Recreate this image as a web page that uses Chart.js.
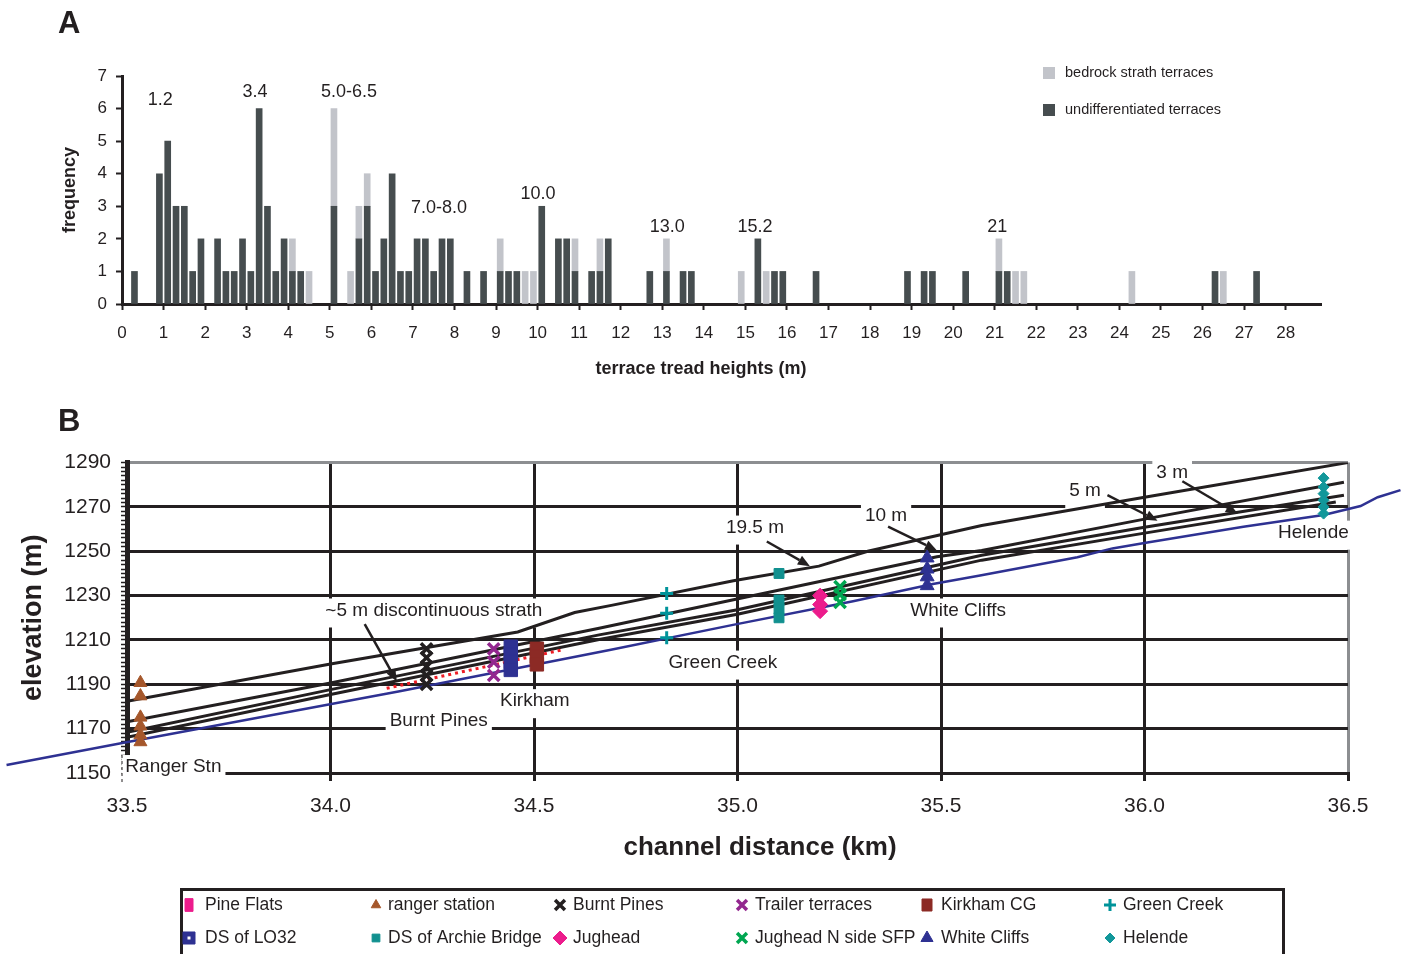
<!DOCTYPE html>
<html>
<head>
<meta charset="utf-8">
<title>terrace heights</title>
<script src="https://cdn.jsdelivr.net/npm/chart.js@4.4.1/dist/chart.umd.min.js"></script>
<style>
  html, body { margin: 0; padding: 0; background: #fff; }
  body { position: relative; width: 1403px; height: 954px; overflow: hidden; }
  canvas { position: absolute; left: 0; }
  #chartA { top: 0; }
  #chartB { top: 440px; }
  .panel { position: absolute; left: 58px; font: bold 31px 'Liberation Sans', Arial, sans-serif; line-height: 1; color: #231f20; }
</style>
</head>
<body>
<canvas id="chartA" width="1403" height="400"></canvas>
<canvas id="chartB" width="1403" height="514"></canvas>
<div class="panel" style="top:7px">A</div>
<div class="panel" style="top:405px">B</div>
<script>
const INK = '#231f20';
const GRAY = '#8c8e91';
const FAMILY = "'Liberation Sans', Arial, Helvetica, sans-serif";
Chart.defaults.font.family = FAMILY;
Chart.defaults.color = INK;

// ---------- panel A: terrace tread heights, 0.2 m bins (bin centre, m) ----------
const undiffHeights = [0.3, 0.9, 1.1, 1.3, 1.5, 1.7, 1.9, 2.3, 2.5, 2.7, 2.9, 3.1, 3.3, 3.5, 3.7, 3.9, 4.1, 4.3,
  5.1, 5.7, 5.9, 6.1, 6.3, 6.5, 6.7, 6.9, 7.1, 7.3, 7.5, 7.7, 7.9, 8.3, 8.7, 9.1, 9.3, 9.5,
  10.1, 10.5, 10.7, 10.9, 11.3, 11.5, 11.7, 12.7, 13.1, 13.5, 13.7, 15.3, 15.7, 15.9, 16.7,
  18.9, 19.3, 19.5, 20.3, 21.1, 21.3, 26.3, 27.3];
const undiffCounts = [1, 4, 5, 3, 3, 1, 2, 2, 1, 1, 2, 1, 6, 3, 1, 2, 1, 1,
  3, 2, 3, 1, 2, 4, 1, 1, 2, 2, 1, 2, 2, 1, 1, 1, 1, 1,
  3, 2, 2, 1, 1, 1, 2, 1, 1, 1, 1, 2, 1, 1, 1,
  1, 1, 1, 1, 1, 1, 1, 1];
const strathHeights = [4.1, 4.5, 5.1, 5.5, 5.7, 5.9, 9.1, 9.7, 9.9, 10.9, 11.5, 13.1, 14.9, 15.5, 21.1, 21.5, 21.7, 24.3, 26.5];
const strathCounts = [1, 1, 3, 1, 1, 1, 1, 1, 1, 1, 1, 1, 1, 1, 1, 1, 1, 1, 1];

// peak annotations (height m, frequency)
const peakText = ['1.2', '3.4', '5.0-6.5', '7.0-8.0', '10.0', '13.0', '15.2', '21'];
const peakPos = [[0.92, 6.26], [3.2, 6.51], [5.46, 6.51], [7.63, 2.95], [10.01, 3.38], [13.12, 2.36], [15.23, 2.36], [21.06, 2.36]];

// ---------- panel B: long profile ----------
const riverKm = [33.204, 33.482, 34.17, 34.686, 34.989, 35.284, 35.48, 35.596, 35.835, 35.921, 36.007, 36.243, 36.44, 36.531, 36.573, 36.629];
const riverElev = [1153.6, 1163.3, 1186.9, 1205.5, 1216.8, 1227.5, 1235.2, 1239.1, 1247.3, 1251.3, 1254.0, 1261.1, 1266.4, 1270.4, 1274.4, 1277.6];

const t1Km = [33.5, 34.0, 34.46, 34.6, 34.69, 34.99, 35.2, 35.32, 35.48, 35.6, 36.0, 36.5];
const t1Elev = [1182.4, 1199.2, 1213.6, 1222.4, 1225.6, 1236.7, 1243.3, 1250.0, 1256.7, 1261.6, 1274.4, 1290.0];
const t2Km = [33.5, 34.0, 34.66, 34.99, 35.49, 35.6, 36.0, 36.49];
const t2Elev = [1173.1, 1190.6, 1215.3, 1228.1, 1247.5, 1250.4, 1264.5, 1281.1];
const t3Km = [33.5, 34.0, 34.66, 35.0, 35.6, 36.0, 36.49];
const t3Elev = [1168.4, 1187.6, 1212.3, 1223.6, 1248.2, 1260.8, 1275.3];
const t4Km = [33.5, 34.0, 34.66, 35.0, 35.6, 36.0, 36.47];
const t4Elev = [1166.1, 1185.4, 1210.2, 1221.6, 1246.0, 1258.2, 1272.2];
const strathKm = [34.138, 34.571];
const strathElev = [1188.2, 1205.6];

const siteNames = ['Pine Flats', 'ranger station', 'Burnt Pines', 'Trailer terraces', 'Kirkham CG', 'Green Creek',
  'DS of LO32', 'DS of Archie Bridge', 'Jughead', 'Jughead N side SFP', 'White Cliffs', 'Helende'];
const siteKm = [34.44, 33.533, 34.236, 34.401, 34.507, 34.826, 34.443, 35.102, 35.203, 35.252, 35.466, 36.44];
const siteElev = [
  [],
  [1190.7, 1184.7, 1175.1, 1171.1, 1167.1, 1164.0],
  [1206, 1202, 1198, 1194, 1190],
  [1206, 1200, 1194],
  [1206, 1202.5, 1199],
  [1231, 1222, 1211],
  [1207, 1203.5, 1200, 1196.5],
  [1240, 1228, 1224, 1220],
  [1230, 1226, 1223],
  [1234, 1230.5, 1227],
  [1247, 1242, 1238.5, 1234.5],
  [1283, 1279, 1276, 1273, 1270, 1267]
];
const siteStyle = [
  { color: '#ec1c8c', shape: 'rect', r: 9, lr: 9, lw: 8 },
  { color: '#a5572b', shape: 'triangle', r: 7.5, lr: 5.5 },
  { color: INK, shape: 'crossRot', r: 8, lr: 7, bw: 3.5 },
  { color: '#93278f', shape: 'crossRot', r: 8, lr: 7, bw: 3.5 },
  { color: '#8c2a25', shape: 'rect', r: 9.5, lr: 8.5, lw: 10 },
  { color: '#00939a', shape: 'cross', r: 6.5, lr: 6, bw: 3 },
  { color: '#2e3192', shape: 'rect', r: 9.5, lr: 8.5, dot: true },
  { color: '#11908f', shape: 'rect', r: 7, lr: 5.5 },
  { color: '#ec1c8c', shape: 'rectRot', r: 7.5, lr: 7 },
  { color: '#00a651', shape: 'crossRot', r: 8, lr: 7, bw: 3.5 },
  { color: '#2e3192', shape: 'triangle', r: 8, lr: 7 },
  { color: '#12979a', shape: 'rectRot', r: 5.5, lr: 5 }
];

// panel B text notes (km, elevation) and arrows
const noteText = ['~5 m discontinuous strath', 'Burnt Pines', 'Kirkham', 'Ranger Stn', 'Green Creek', 'White Cliffs',
  '19.5 m', '10 m', '5 m', '3 m', 'Helende'];
const notePos = [[34.254, 1223.3], [34.266, 1173.6], [34.502, 1182.4], [33.614, 1152.7], [34.964, 1199.8], [35.542, 1223.3],
  [35.043, 1260.7], [35.365, 1266.0], [35.854, 1277.1], [36.068, 1285.6], [36.415, 1258.4]];
const arrowFrom = [[34.084, 1217.1], [35.072, 1254.4], [35.370, 1261.1], [35.909, 1275.3], [36.093, 1281.6]];
const arrowTo = [[34.163, 1191.3], [35.178, 1243.3], [35.490, 1250.4], [36.032, 1263.8], [36.229, 1266.9]];

function pairs(xs, ys) {
  return xs.map((x, i) => ({ x: x, y: ys[i] }));
}

// ---------- panel A plugins ----------
const peakLabelPlugin = {
  id: 'peakLabels',
  afterDatasetsDraw(chart) {
    const { ctx, scales: { x, y } } = chart;
    ctx.save();
    ctx.font = '18px ' + FAMILY;
    ctx.fillStyle = INK;
    ctx.textAlign = 'center';
    ctx.textBaseline = 'middle';
    peakText.forEach((t, i) => {
      ctx.fillText(t, x.getPixelForValue(peakPos[i][0]), y.getPixelForValue(peakPos[i][1]));
    });
    ctx.restore();
  }
};

const legendAPlugin = {
  id: 'legendA',
  afterDraw(chart) {
    const ctx = chart.ctx;
    const items = [chart.data.datasets[1], chart.data.datasets[0]];
    ctx.save();
    ctx.font = '14.5px ' + FAMILY;
    ctx.textBaseline = 'middle';
    items.forEach((ds, i) => {
      const cy = 73 + i * 37;
      ctx.fillStyle = ds.backgroundColor;
      ctx.fillRect(1043, cy - 6, 12, 12);
      ctx.fillStyle = INK;
      ctx.fillText(ds.label, 1065, cy);
    });
    // x-axis title sits a little left of centre in the original
    ctx.font = 'bold 18px ' + FAMILY;
    ctx.textAlign = 'center';
    ctx.fillText('terrace tread heights (m)', 701, 369);
    ctx.restore();
  }
};

new Chart(document.getElementById('chartA'), {
  type: 'bar',
  data: {
    datasets: [
      { label: 'undifferentiated terraces', data: pairs(undiffHeights, undiffCounts), backgroundColor: '#464d4f', barThickness: 6 },
      { label: 'bedrock strath terraces', data: pairs(strathHeights, strathCounts), backgroundColor: '#c2c4ca', barThickness: 6 }
    ]
  },
  options: {
    responsive: false,
    animation: false,
    events: [],
    layout: { padding: { top: 76, right: 82, bottom: 0, left: 0 } },
    plugins: { legend: { display: false }, tooltip: { enabled: false } },
    scales: {
      x: {
        type: 'linear', stacked: true, offset: false, min: 0, max: 28.85,
        afterFit: (s) => { s.height = 96; },
        grid: { offset: false, drawOnChartArea: false, tickLength: 6, tickWidth: 2, tickColor: INK },
        border: { color: INK, width: 3 },
        ticks: { stepSize: 1, includeBounds: false, autoSkip: false, maxRotation: 0, padding: 13, font: { size: 17 } },
        title: { display: false }
      },
      y: {
        stacked: true, min: 0, max: 7,
        afterFit: (s) => { s.width = 122; },
        grid: { drawOnChartArea: false, tickLength: 6, tickWidth: 2, tickColor: INK },
        border: { color: INK, width: 3 },
        ticks: { stepSize: 1, padding: 9, font: { size: 17 } },
        title: { display: true, text: 'frequency', padding: { top: 59, bottom: 0 }, font: { size: 18, weight: 'bold' } }
      }
    }
  },
  plugins: [peakLabelPlugin, legendAPlugin]
});

// ---------- panel B plugins ----------
function drawMarker(ctx, st, x, y, r, w) {
  ctx.save();
  ctx.fillStyle = st.color;
  ctx.strokeStyle = st.color;
  ctx.lineWidth = st.bw || 1;
  const h = Chart.helpers;
  if (h && h.drawPointLegend) {
    h.drawPointLegend(ctx, { pointStyle: st.shape, radius: r, rotation: 0, borderWidth: st.bw || 1 }, x, y, w);
  } else {
    ctx.fillRect(x - r / 2, y - r / 2, r, r);
  }
  if (st.dot) {
    ctx.fillStyle = '#fff';
    ctx.fillRect(x - 1.5, y - 1.5, 3, 3);
  }
  ctx.restore();
}

const notesPlugin = {
  id: 'notes',
  beforeDatasetsDraw(chart) {
    const { ctx, scales: { x, y }, chartArea } = chart;
    ctx.save();
    ctx.font = '19px ' + FAMILY;
    ctx.textAlign = 'center';
    ctx.textBaseline = 'middle';
    noteText.forEach((t, i) => {
      const px = x.getPixelForValue(notePos[i][0]);
      const py = y.getPixelForValue(notePos[i][1]);
      const w = ctx.measureText(t).width;
      ctx.fillStyle = '#fff';
      ctx.fillRect(px - w / 2 - 4, py - 12, w + 8, 29);
      ctx.fillStyle = INK;
      ctx.fillText(t, px, py);
    });
    // thin dashed stub under the axis corner (Ranger Stn)
    const ry = y.getPixelForValue(notePos[3][1]);
    ctx.strokeStyle = INK;
    ctx.lineWidth = 1;
    ctx.setLineDash([3, 3]);
    ctx.beginPath();
    ctx.moveTo(chartArea.left - 5, ry - 12);
    ctx.lineTo(chartArea.left - 5, ry + 16);
    ctx.stroke();
    ctx.restore();
  }
};

const arrowPlugin = {
  id: 'arrows',
  afterDatasetsDraw(chart) {
    const { ctx, scales: { x, y } } = chart;
    ctx.save();
    ctx.strokeStyle = INK;
    ctx.fillStyle = INK;
    ctx.lineWidth = 2.5;
    arrowFrom.forEach((a, i) => {
      const x0 = x.getPixelForValue(a[0]), y0 = y.getPixelForValue(a[1]);
      const x1 = x.getPixelForValue(arrowTo[i][0]), y1 = y.getPixelForValue(arrowTo[i][1]);
      const ang = Math.atan2(y1 - y0, x1 - x0);
      const hl = 12, hw = 5;
      const bx = x1 - hl * Math.cos(ang), by = y1 - hl * Math.sin(ang);
      ctx.beginPath();
      ctx.moveTo(x0, y0);
      ctx.lineTo(bx, by);
      ctx.stroke();
      ctx.beginPath();
      ctx.moveTo(x1, y1);
      ctx.lineTo(bx + hw * Math.sin(ang), by - hw * Math.cos(ang));
      ctx.lineTo(bx - hw * Math.sin(ang), by + hw * Math.cos(ang));
      ctx.closePath();
      ctx.fill();
    });
    ctx.restore();
  }
};

const legendCols = [189, 376, 560, 742, 927, 1110];
const legendTextCols = [205, 388, 573, 755, 941, 1123];
const legendBPlugin = {
  id: 'legendB',
  afterDraw(chart) {
    const ctx = chart.ctx;
    ctx.save();
    // x-axis title, centred a bit right of the plot centre as in the original
    ctx.fillStyle = INK;
    ctx.font = 'bold 26px ' + FAMILY;
    ctx.textAlign = 'center';
    ctx.textBaseline = 'middle';
    ctx.fillText('channel distance (km)', 760, 408);
    ctx.textAlign = 'left';
    ctx.strokeStyle = INK;
    ctx.lineWidth = 3;
    ctx.strokeRect(181.5, 449.5, 1102, 72);
    ctx.font = '17.5px ' + FAMILY;
    siteNames.forEach((name, i) => {
      const col = i % 6, row = Math.floor(i / 6);
      const cy = 465 + row * 33;
      const st = siteStyle[i];
      drawMarker(ctx, st, legendCols[col], cy, st.lr, st.lw);
      ctx.fillStyle = INK;
      ctx.fillText(name, legendTextCols[col], cy);
    });
    ctx.restore();
  }
};

const siteSets = siteNames.map((name, i) => ({
  label: name,
  data: siteElev[i].map((e) => ({ x: siteKm[i], y: e })),
  showLine: false,
  order: 0,
  pointStyle: siteStyle[i].shape,
  pointRadius: siteStyle[i].r,
  pointBackgroundColor: siteStyle[i].color,
  pointBorderColor: siteStyle[i].color,
  pointBorderWidth: siteStyle[i].bw || 1
}));

function terraceSet(label, xs, ys) {
  return { label: label, data: pairs(xs, ys), borderColor: INK, borderWidth: 3, pointRadius: 0, order: 2 };
}

new Chart(document.getElementById('chartB'), {
  type: 'line',
  data: {
    datasets: siteSets.concat([
      { label: '~5 m strath', data: pairs(strathKm, strathElev), borderColor: '#ee1c25', borderWidth: 3,
        borderDash: [3, 4], pointRadius: 0, order: 1 },
      terraceSet('terrace 1', t1Km, t1Elev),
      terraceSet('terrace 2', t2Km, t2Elev),
      terraceSet('terrace 3', t3Km, t3Elev),
      terraceSet('terrace 4', t4Km, t4Elev),
      // listed downstream-first so chart.js treats it as unsorted and keeps the part past the axis ends
      { label: 'channel', data: pairs(riverKm, riverElev).reverse(), borderColor: '#2e3192', borderWidth: 2.5,
        pointRadius: 0, clip: false, order: 3 }
    ])
  },
  options: {
    responsive: false,
    animation: false,
    events: [],
    layout: { padding: { top: 18, right: 55, bottom: 84, left: 0 } },
    plugins: { legend: { display: false }, tooltip: { enabled: false } },
    elements: { line: { tension: 0 } },
    scales: {
      x: {
        type: 'linear', min: 33.5, max: 36.5,
        afterFit: (s) => { s.height = 97; },
        grid: {
          color: (c) => (c.tick.value === 33.5 ? 'rgba(0,0,0,0)' : (c.tick.value === 36.5 ? GRAY : INK)),
          lineWidth: 3, tickLength: 8, tickWidth: 3, tickColor: INK
        },
        border: { color: INK, width: 3 },
        ticks: { stepSize: 0.5, autoSkip: false, maxRotation: 0, padding: 13, font: { size: 21 },
          callback: (v) => Number(v).toFixed(1) },
        title: { display: false }
      },
      y: {
        min: 1150, max: 1290,
        afterFit: (s) => { s.width = 127; },
        grid: {
          color: (c) => {
            const v = c.tick.value;
            if (v === 1290) return GRAY;
            if (v === 1150) return 'rgba(0,0,0,0)';
            return (v - 1150) % 20 === 0 ? INK : 'rgba(0,0,0,0)';
          },
          lineWidth: 3, tickLength: 6, tickWidth: 1.5, tickColor: INK
        },
        border: { color: INK, width: 5 },
        ticks: { stepSize: 2, autoSkip: false, padding: 10, font: { size: 21 },
          callback: (v) => ((v - 1150) % 20 === 0 ? String(v) : '') },
        title: { display: true, text: 'elevation (m)', padding: { top: 17, bottom: 0 }, font: { size: 27, weight: 'bold' } }
      }
    }
  },
  plugins: [notesPlugin, arrowPlugin, legendBPlugin]
});
</script>
</body>
</html>
